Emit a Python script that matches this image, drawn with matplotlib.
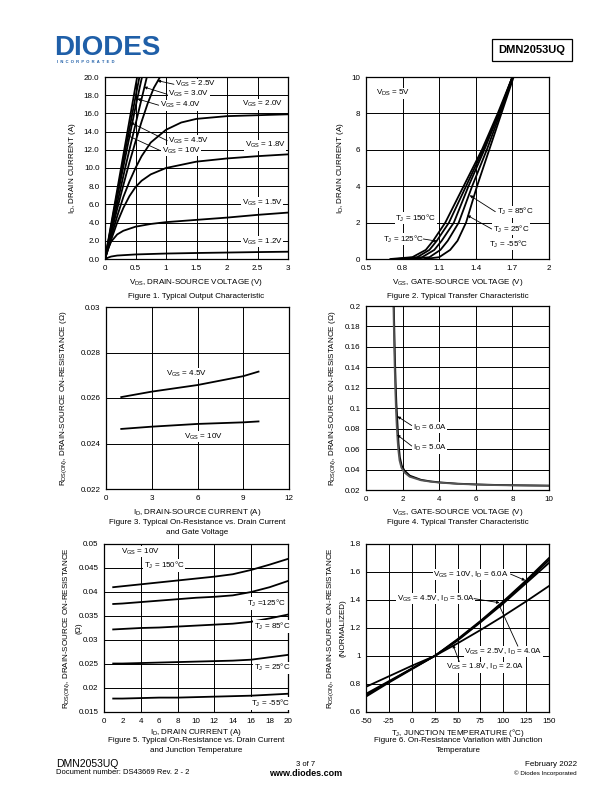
import numpy as np
import matplotlib
matplotlib.use('Agg')
import matplotlib.pyplot as plt

plt.rcParams['font.family'] = ['Liberation Sans', 'DejaVu Sans']
plt.rcParams['mathtext.fontset'] = 'custom'
plt.rcParams['mathtext.rm'] = 'Liberation Sans'
plt.rcParams['mathtext.default'] = 'regular'

W, H = 612, 792
FS = 5.8

# ---------- Figure 1: output characteristic ----------
vds_10 = [0, 0.1, 0.2, 0.3, 0.4, 0.5, 0.53]
id_10 = [0, 3.8, 7.6, 11.4, 15.2, 19.0, 20.1]
vds_45 = [0, 0.1, 0.2, 0.3, 0.4, 0.5, 0.57]
id_45 = [0, 3.6, 7.2, 10.8, 14.3, 17.8, 20.2]
vds_40 = [0, 0.1, 0.2, 0.3, 0.4, 0.5, 0.6, 0.62]
id_40 = [0, 3.4, 6.8, 10.1, 13.4, 16.7, 19.8, 20.3]
vds_30 = [0, 0.1, 0.2, 0.3, 0.4, 0.5, 0.6, 0.69]
id_30 = [0, 3.1, 6.1, 9.1, 12.0, 14.8, 17.6, 20.1]
vds_25 = [0, 0.1, 0.2, 0.3, 0.4, 0.5, 0.6, 0.7, 0.8, 0.92]
id_25 = [0, 2.8, 5.5, 8.1, 10.6, 12.9, 15.1, 17.1, 18.8, 20.2]
vds_20 = [0, 0.1, 0.2, 0.3, 0.4, 0.5, 0.6, 0.75, 1.0, 1.25, 1.5, 2.0, 2.5, 3.0]
id_20 = [0, 2.4, 4.7, 6.8, 8.5, 10.0, 11.3, 12.8, 14.2, 15.0, 15.4, 15.7, 15.8, 15.9]
vds_18 = [0, 0.1, 0.2, 0.3, 0.4, 0.5, 0.6, 0.75, 1.0, 1.5, 2.0, 2.5, 3.0]
id_18 = [0, 2.1, 4.0, 5.6, 6.9, 7.9, 8.6, 9.3, 10.0, 10.7, 11.05, 11.3, 11.5]
vds_15 = [0, 0.05, 0.1, 0.2, 0.3, 0.5, 0.75, 1.0, 1.5, 2.0, 2.5, 3.0]
id_15 = [0, 1.1, 1.9, 2.7, 3.1, 3.55, 3.85, 4.05, 4.3, 4.55, 4.85, 5.1]
vds_12 = [0, 0.05, 0.1, 0.2, 0.5, 1.0, 1.5, 2.0, 2.5, 3.0]
id_12 = [0, 0.15, 0.27, 0.38, 0.5, 0.6, 0.66, 0.71, 0.76, 0.8]

# ---------- Figure 2: transfer characteristic ----------
id_tr = [0, 0.1, 0.5, 1, 2, 4, 6, 8, 10]
vgs_150 = [0.70, 0.88, 0.99, 1.05, 1.15, 1.30, 1.45, 1.58, 1.70]
vgs_125 = [0.75, 0.92, 1.02, 1.08, 1.18, 1.32, 1.46, 1.59, 1.70]
vgs_85 = [0.80, 0.96, 1.06, 1.12, 1.22, 1.34, 1.47, 1.59, 1.70]
vgs_25 = [0.88, 1.02, 1.11, 1.17, 1.26, 1.37, 1.49, 1.60, 1.70]
vgs_m55 = [0.98, 1.10, 1.19, 1.25, 1.32, 1.41, 1.51, 1.61, 1.71]

# ---------- Figure 3: Rds vs Id ----------
id_r = [1, 3, 6, 9, 10]
rds_45 = [0.02604, 0.02628, 0.02657, 0.02696, 0.02716]
rds_10 = [0.02464, 0.02474, 0.02486, 0.02493, 0.02497]

# ---------- Figure 4: Rds vs Vgs ----------
vgs_6a = [1.52, 1.55, 1.58, 1.62, 1.66, 1.70, 1.74, 1.78, 1.85, 1.95, 2.1, 2.4, 3, 3.5, 4, 5, 6, 7, 8, 9, 10]
rds_6a = [0.2, 0.175, 0.15, 0.125, 0.105, 0.092, 0.078, 0.065, 0.052, 0.044, 0.039, 0.034,
          0.030, 0.0285, 0.0275, 0.0262, 0.0255, 0.025, 0.0247, 0.0245, 0.0243]
vgs_5a = [1.50, 1.53, 1.56, 1.60, 1.64, 1.68, 1.72, 1.76, 1.83, 1.93, 2.08, 2.38, 3, 3.5, 4, 5, 6, 7, 8, 9, 10]
rds_5a = [0.2, 0.17, 0.145, 0.118, 0.097, 0.082, 0.07, 0.06, 0.049, 0.042, 0.0375, 0.033,
          0.0295, 0.0282, 0.0272, 0.026, 0.0253, 0.0248, 0.0245, 0.0243, 0.0241]

# ---------- Figure 5: Rds vs Id and Tj ----------
id_t = [1, 2, 4, 6, 8, 10, 12, 14, 16, 18, 20]
rds_150 = [0.0410, 0.0412, 0.0416, 0.0420, 0.0424, 0.0428, 0.0432, 0.0437, 0.0446, 0.0457, 0.0469]
rds_125 = [0.0375, 0.0376, 0.0379, 0.0382, 0.0385, 0.0388, 0.0390, 0.0393, 0.0400, 0.0410, 0.0423]
rds_85 = [0.0322, 0.0323, 0.0325, 0.0326, 0.0328, 0.0330, 0.0332, 0.0334, 0.0338, 0.0345, 0.0353]
rds_25 = [0.0251, 0.0251, 0.0252, 0.0253, 0.0254, 0.0255, 0.0256, 0.0257, 0.0259, 0.0264, 0.0269]
rds_m55 = [0.0178, 0.0178, 0.0179, 0.0180, 0.0180, 0.0181, 0.0182, 0.0183, 0.0184, 0.0186, 0.0188]

# ---------- Figure 6: normalized Rds vs Tj ----------
tj = [-50, -25, 0, 25, 50, 75, 100, 125, 150]
rn_10v = [0.71, 0.81, 0.905, 1.0, 1.12, 1.25, 1.39, 1.54, 1.70]
rn_45v = [0.72, 0.815, 0.91, 1.0, 1.115, 1.245, 1.385, 1.53, 1.685]
rn_25v = [0.73, 0.82, 0.91, 1.0, 1.11, 1.24, 1.375, 1.52, 1.665]
rn_18v = [0.78, 0.855, 0.93, 1.0, 1.09, 1.185, 1.285, 1.39, 1.50]


def fx(px):
    return px / W


def fy(py):
    return 1 - py / H


def make_ax(fig, x0, y0, x1, y1, xlim, ylim, xticks, xlabels, yticks, ylabels, xgrid, ygrid):
    ax = fig.add_axes([fx(x0), fy(y1), (x1 - x0) / W, (y1 - y0) / H])
    ax.set_xlim(*xlim)
    ax.set_ylim(*ylim)
    ax.set_xticks(xticks)
    ax.set_xticklabels(xlabels)
    ax.set_yticks(yticks)
    ax.set_yticklabels(ylabels)
    ax.tick_params(length=0, labelsize=FS, pad=4)
    for g in xgrid:
        ax.axvline(g, color='black', lw=0.7, zorder=1)
    for g in ygrid:
        ax.axhline(g, color='black', lw=0.7, zorder=1)
    for s in ax.spines.values():
        s.set_linewidth(0.9)
    return ax


def lab(ax, x, y, s, ha='left'):
    ax.text(x, y, s, fontsize=FS, ha=ha, va='center', zorder=3,
            bbox=dict(facecolor='white', edgecolor='none', pad=0.4))


def arr(ax, x0, y0, x1, y1):
    ax.annotate('', xy=(x1, y1), xytext=(x0, y0), zorder=4,
                arrowprops=dict(arrowstyle='-|>', lw=0.6, color='black',
                                mutation_scale=4, shrinkA=0, shrinkB=0))


fig = plt.figure(figsize=(6.12, 7.92), dpi=100)

# header
fig.text(fx(54), fy(48), 'DIODES', fontsize=20, fontweight='bold', color='#1f5fa8',
         ha='left', va='center', family=['Liberation Sans'])
fig.text(fx(57), fy(62), 'I  N  C  O  R  P  O  R  A  T  E  D', fontsize=3, color='#1f5fa8',
         ha='left', va='center', fontweight='bold')
fig.text(fx(532), fy(50), 'DMN2053UQ', fontsize=8, fontweight='bold', ha='center', va='center',
         bbox=dict(facecolor='white', edgecolor='black', lw=0.9, pad=4.5))

C = dict(color='black', lw=1.3, zorder=2)

# ---- Fig 1
ax1 = make_ax(fig, 105, 77, 288, 259, (0, 3), (0, 20),
              [0, 0.5, 1, 1.5, 2, 2.5, 3], ['0', '0.5', '1', '1.5', '2', '2.5', '3'],
              np.arange(0, 21, 2), ['%.1f' % v for v in np.arange(0, 21, 2)],
              [0.5, 1, 1.5, 2, 2.5], np.arange(2, 20, 2))
for xs, ys in [(vds_10, id_10), (vds_45, id_45), (vds_40, id_40), (vds_30, id_30), (vds_25, id_25),
               (vds_20, id_20), (vds_18, id_18), (vds_15, id_15), (vds_12, id_12)]:
    ax1.plot(xs, ys, **C)
lab(ax1, 1.15, 19.2, 'V$_{GS}$ = 2.5V')
lab(ax1, 1.04, 18.1, 'V$_{GS}$ = 3.0V')
lab(ax1, 0.90, 16.9, 'V$_{GS}$ = 4.0V')
lab(ax1, 2.24, 17.0, 'V$_{GS}$ = 2.0V')
lab(ax1, 1.04, 13.0, 'V$_{GS}$ = 4.5V')
lab(ax1, 0.93, 11.9, 'V$_{GS}$ = 10V')
lab(ax1, 2.29, 12.5, 'V$_{GS}$ = 1.8V')
lab(ax1, 2.24, 6.2, 'V$_{GS}$ = 1.5V')
lab(ax1, 2.24, 1.9, 'V$_{GS}$ = 1.2V')
arr(ax1, 1.13, 19.2, 0.86, 19.6)
arr(ax1, 1.02, 18.1, 0.64, 18.9)
arr(ax1, 0.88, 16.9, 0.53, 17.6)
arr(ax1, 1.02, 13.0, 0.42, 15.0)
arr(ax1, 0.91, 11.9, 0.36, 13.6)
fig.text(fx(196), fy(283), 'V$_{DS}$, DRAIN-SOURCE VOLTAGE (V)', fontsize=FS, ha='center', va='center')
fig.text(fx(72), fy(168), 'I$_{D}$, DRAIN CURRENT (A)', fontsize=FS, ha='center', va='center', rotation=90)
fig.text(fx(196), fy(296), 'Figure 1. Typical Output Characteristic', fontsize=FS, ha='center', va='center')

# ---- Fig 2
ax2 = make_ax(fig, 366, 77, 549, 259, (0.5, 2), (0, 10),
              [0.5, 0.8, 1.1, 1.4, 1.7, 2], ['0.5', '0.8', '1.1', '1.4', '1.7', '2'],
              [0, 2, 4, 6, 8, 10], ['0', '2', '4', '6', '8', '10'],
              [0.8, 1.1, 1.4, 1.7], [2, 4, 6, 8])
for xs in [vgs_150, vgs_125, vgs_85, vgs_25, vgs_m55]:
    ax2.plot(xs, id_tr, **C)
lab(ax2, 0.58, 9.1, 'V$_{DS}$ = 5V')
lab(ax2, 0.74, 2.25, 'T$_{J}$ = 150\u00b0C')
lab(ax2, 0.64, 1.1, 'T$_{J}$ = 125\u00b0C')
lab(ax2, 1.57, 2.6, 'T$_{J}$ = 85\u00b0C')
lab(ax2, 1.54, 1.65, 'T$_{J}$ = 25\u00b0C')
lab(ax2, 1.51, 0.82, 'T$_{J}$ = -55\u00b0C')
arr(ax2, 0.97, 1.1, 1.08, 0.98)
arr(ax2, 1.56, 2.6, 1.35, 3.5)
arr(ax2, 1.53, 1.65, 1.33, 2.4)
fig.text(fx(458), fy(283), 'V$_{GS}$, GATE-SOURCE VOLTAGE (V)', fontsize=FS, ha='center', va='center')
fig.text(fx(340), fy(168), 'I$_{D}$, DRAIN CURRENT (A)', fontsize=FS, ha='center', va='center', rotation=90)
fig.text(fx(458), fy(296), 'Figure 2. Typical Transfer Characteristic', fontsize=FS, ha='center', va='center')

# ---- Fig 3
ax3 = make_ax(fig, 106, 307, 289, 489, (0, 12), (0.022, 0.03),
              [0, 3, 6, 9, 12], ['0', '3', '6', '9', '12'],
              [0.022, 0.024, 0.026, 0.028, 0.03], ['0.022', '0.024', '0.026', '0.028', '0.03'],
              [3, 6, 9], [0.024, 0.026, 0.028])
ax3.plot(id_r, rds_45, **C)
ax3.plot(id_r, rds_10, **C)
lab(ax3, 5.3, 0.02707, 'V$_{GS}$ = 4.5V', ha='center')
lab(ax3, 6.4, 0.02430, 'V$_{GS}$ = 10V', ha='center')
fig.text(fx(197), fy(512), 'I$_{D}$, DRAIN-SOURCE CURRENT (A)', fontsize=FS, ha='center', va='center')
fig.text(fx(64), fy(398), 'R$_{DS(ON)}$, DRAIN-SOURCE ON-RESISTANCE (\u03a9)', fontsize=FS,
         ha='center', va='center', rotation=90)
fig.text(fx(197), fy(523), 'Figure 3. Typical On-Resistance vs. Drain Current', fontsize=FS, ha='center', va='center')
fig.text(fx(197), fy(533), 'and Gate Voltage', fontsize=FS, ha='center', va='center')

# ---- Fig 4
y4 = [0.02, 0.04, 0.06, 0.08, 0.1, 0.12, 0.14, 0.16, 0.18, 0.2]
ax4 = make_ax(fig, 366, 306, 549, 490, (0, 10), (0.02, 0.2),
              [0, 2, 4, 6, 8, 10], ['0', '2', '4', '6', '8', '10'],
              y4, ['%g' % v for v in y4],
              [2, 4, 6, 8], y4[1:-1])
ax4.plot(vgs_6a, rds_6a, **C)
ax4.plot(vgs_5a, rds_5a, color='#555555', lw=1.3, zorder=2)
lab(ax4, 2.55, 0.081, 'I$_{D}$ = 6.0A')
lab(ax4, 2.55, 0.061, 'I$_{D}$ = 5.0A')
arr(ax4, 2.5, 0.083, 1.72, 0.092)
arr(ax4, 2.5, 0.063, 1.70, 0.074)
fig.text(fx(458), fy(512), 'V$_{GS}$, GATE-SOURCE VOLTAGE (V)', fontsize=FS, ha='center', va='center')
fig.text(fx(333), fy(398), 'R$_{DS(ON)}$, DRAIN-SOURCE ON-RESISTANCE (\u03a9)', fontsize=FS,
         ha='center', va='center', rotation=90)
fig.text(fx(458), fy(523), 'Figure 4. Typical Transfer Characteristic', fontsize=FS, ha='center', va='center')

# ---- Fig 5
y5 = [0.015, 0.02, 0.025, 0.03, 0.035, 0.04, 0.045, 0.05]
ax5 = make_ax(fig, 104, 544, 288, 712, (0, 20), (0.015, 0.05),
              np.arange(0, 21, 2), [str(v) for v in range(0, 21, 2)],
              y5, ['%g' % v for v in y5],
              [4, 8, 12, 16], y5[1:-1])
for ys in [rds_150, rds_125, rds_85, rds_25, rds_m55]:
    ax5.plot(id_t, ys, **C)
lab(ax5, 1.8, 0.0484, 'V$_{GS}$ = 10V')
lab(ax5, 4.3, 0.0455, 'T$_{J}$ = 150\u00b0C')
lab(ax5, 15.5, 0.0376, 'T$_{J}$ =125\u00b0C')
lab(ax5, 16.3, 0.0328, 'T$_{J}$ = 85\u00b0C')
lab(ax5, 16.3, 0.0242, 'T$_{J}$ = 25\u00b0C')
lab(ax5, 16.0, 0.0168, 'T$_{J}$ = -55\u00b0C')
fig.text(fx(196), fy(733), 'I$_{D}$, DRAIN CURRENT (A)', fontsize=FS, ha='center', va='center')
fig.text(fx(67), fy(628), 'R$_{DS(ON)}$, DRAIN-SOURCE ON-RESISTANCE', fontsize=FS,
         ha='center', va='center', rotation=90)
fig.text(fx(79), fy(628), '(\u03a9)', fontsize=FS, ha='center', va='center', rotation=90)
fig.text(fx(196), fy(741), 'Figure 5. Typical On-Resistance vs. Drain Current', fontsize=FS, ha='center', va='center')
fig.text(fx(196), fy(751), 'and Junction Temperature', fontsize=FS, ha='center', va='center')

# ---- Fig 6
y6 = [0.6, 0.8, 1, 1.2, 1.4, 1.6, 1.8]
ax6 = make_ax(fig, 366, 544, 549, 712, (-50, 150), (0.6, 1.8),
              tj, [str(v) for v in tj],
              y6, ['%g' % v for v in y6],
              tj[1:-1], y6[1:-1])
for ys in [rn_10v, rn_45v, rn_25v, rn_18v]:
    ax6.plot(tj, ys, **C)
lab(ax6, 65, 1.58, 'V$_{GS}$ = 10V, I$_{D}$ = 6.0A', ha='center')
lab(ax6, 26, 1.41, 'V$_{GS}$ = 4.5V, I$_{D}$ = 5.0A', ha='center')
lab(ax6, 100, 1.03, 'V$_{GS}$ = 2.5V, I$_{D}$ = 4.0A', ha='center')
lab(ax6, 80, 0.92, 'V$_{GS}$ = 1.8V, I$_{D}$ = 2.0A', ha='center')
arr(ax6, 108, 1.585, 124, 1.54)
arr(ax6, 68, 1.41, 96, 1.38)
arr(ax6, 116, 1.07, 95, 1.37)
arr(ax6, 52, 0.96, 45, 1.08)
fig.text(fx(458), fy(733), 'T$_{J}$, JUNCTION TEMPERATURE (\u00b0C)', fontsize=FS, ha='center', va='center')
fig.text(fx(331), fy(628), 'R$_{DS(ON)}$, DRAIN-SOURCE ON-RESISTANCE', fontsize=FS,
         ha='center', va='center', rotation=90)
fig.text(fx(343), fy(628), '(NORMALIZED)', fontsize=FS, ha='center', va='center', rotation=90)
fig.text(fx(458), fy(741), 'Figure 6. On-Resistance Variation with Junction', fontsize=FS, ha='center', va='center')
fig.text(fx(458), fy(751), 'Temperature', fontsize=FS, ha='center', va='center')

# footer
fig.text(fx(56), fy(764), 'DMN2053UQ', fontsize=7.5, ha='left', va='center')
fig.text(fx(56), fy(773), 'Document number: DS43669 Rev. 2 - 2', fontsize=5.5, ha='left', va='center')
fig.text(fx(306), fy(764), '3 of 7', fontsize=5.5, ha='center', va='center')
fig.text(fx(306), fy(773), 'www.diodes.com', fontsize=6.5, fontweight='bold', ha='center', va='center')
fig.text(fx(577), fy(764), 'February 2022', fontsize=5.8, ha='right', va='center')
fig.text(fx(577), fy(773), '\u00a9 Diodes Incorporated', fontsize=4.5, ha='right', va='center')

fig.savefig('out.png', dpi=100)
